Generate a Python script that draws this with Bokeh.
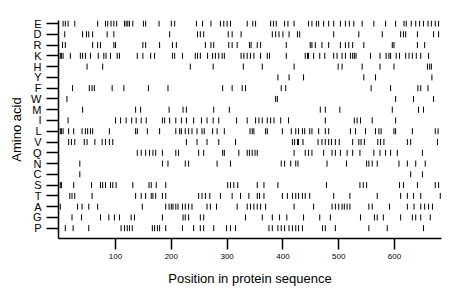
from bokeh.plotting import figure
from bokeh.models import ColumnDataSource, FixedTicker, Range1d
from bokeh.embed import file_html
from bokeh.resources import INLINE

# Amino acids, top to bottom
amino_acids = ["E", "D", "R", "K", "H", "Y", "F", "W", "M", "I",
               "L", "V", "Q", "N", "C", "S", "T", "A", "G", "P"]

pos_E = [6, 10, 15, 27, 68, 82, 86, 92, 97, 102, 116, 119, 122, 125, 131, 150, 154,
         178, 200, 206, 245, 256, 271, 288, 294, 300, 306, 336, 346, 351, 378, 383, 388,
         403, 409, 420, 446, 452, 460, 464, 473, 482, 491, 503, 512, 519, 527, 542, 563,
         584, 602, 617, 621, 630, 638, 645, 652, 660, 666, 673, 679]
pos_D = [9, 41, 48, 52, 59, 85, 97, 197, 247, 252, 258, 302, 309, 325, 381, 387, 393,
         400, 411, 426, 430, 491, 536, 578, 611, 616, 620, 641, 670, 679]
pos_R = [5, 10, 59, 68, 73, 97, 100, 149, 154, 179, 202, 209, 261, 271, 276, 303, 309,
         318, 340, 343, 354, 360, 406, 449, 452, 458, 470, 482, 503, 512, 518, 525, 545,
         596, 599, 641, 654]
pos_K = [1, 3, 6, 19, 37, 41, 46, 55, 69, 79, 83, 91, 103, 107, 139, 149, 163, 170,
         202, 206, 220, 243, 247, 252, 265, 274, 279, 285, 291, 295, 325, 330, 336, 342,
         348, 360, 372, 376, 406, 440, 444, 446, 455, 466, 475, 491, 497, 506, 512, 521,
         525, 528, 531, 557, 574, 585, 590, 593, 603, 609, 620, 626, 632, 639, 647, 661]
pos_H = [49, 77, 234, 275, 329, 363, 420, 499, 506, 542, 574, 599, 659, 663, 666]
pos_Y = [391, 411, 437, 545, 566, 667]
pos_F = [23, 53, 58, 62, 94, 115, 159, 194, 292, 309, 327, 333, 397, 405, 558, 593,
         642, 647, 660]
pos_W = [13, 387, 390, 602, 634, 670]
pos_M = [41, 136, 145, 196, 221, 227, 276, 304, 467, 476, 502, 596, 643, 652]
pos_I = [15, 100, 109, 119, 129, 137, 146, 155, 184, 188, 197, 208, 218, 227, 240,
         254, 264, 275, 285, 317, 336, 351, 357, 363, 372, 378, 384, 396, 410, 476, 528,
         533, 539, 560, 602]
pos_L = [1, 3, 6, 16, 25, 40, 46, 50, 55, 59, 89, 136, 139, 157, 179, 208, 215, 218,
         225, 231, 237, 246, 255, 259, 274, 282, 295, 341, 345, 348, 369, 372, 399, 415,
         423, 428, 435, 439, 448, 452, 464, 476, 482, 521, 530, 548, 566, 572, 576, 599,
         602, 632, 673, 678]
pos_V = [16, 21, 27, 44, 49, 63, 76, 82, 89, 95, 227, 246, 264, 285, 315, 417, 421,
         426, 428, 436, 463, 470, 476, 482, 487, 494, 501, 525, 536, 540, 546, 570, 575,
         581, 623, 629, 677]
pos_Q = [139, 146, 154, 161, 167, 172, 184, 208, 213, 249, 258, 292, 295, 321, 336,
         340, 345, 350, 354, 420, 440, 446, 452, 473, 488, 494, 503, 515, 525, 538, 563,
         574, 584, 593, 605, 650]
pos_N = [36, 184, 194, 225, 231, 282, 306, 397, 403, 414, 423, 427, 479, 514, 550,
         554, 560, 569, 608, 623, 638, 655]
pos_C = [36, 629, 650]
pos_S = [1, 3, 25, 57, 73, 77, 82, 91, 95, 101, 131, 160, 164, 173, 190, 301, 306,
         312, 319, 354, 366, 391, 478, 538, 544, 550, 609, 616, 641, 673, 679]
pos_T = [18, 22, 27, 58, 136, 146, 154, 164, 167, 172, 184, 190, 249, 255, 261, 269,
         288, 309, 324, 339, 354, 358, 366, 399, 408, 417, 423, 428, 435, 440, 448, 491,
         520, 569, 611, 623, 634, 647, 682]
pos_A = [1, 32, 40, 52, 68, 148, 190, 196, 200, 203, 208, 212, 220, 225, 231, 237,
         264, 270, 281, 318, 336, 342, 348, 354, 360, 369, 420, 455, 488, 494, 500, 506,
         510, 515, 520, 554, 560, 591, 623, 635, 647, 654, 661, 668]
pos_G = [22, 39, 73, 88, 98, 107, 128, 134, 184, 221, 225, 231, 252, 258, 333, 363,
         381, 394, 407, 437, 466, 485, 539, 564, 569, 580, 611, 632, 638, 647, 664]
pos_P = [10, 24, 52, 110, 116, 121, 125, 130, 166, 170, 175, 179, 190, 220, 240, 252,
         258, 276, 299, 306, 315, 375, 381, 391, 397, 403, 411, 417, 423, 428, 435, 471,
         476, 494, 554, 587, 652]

positions = {
    "E": pos_E, "D": pos_D, "R": pos_R, "K": pos_K, "H": pos_H, "Y": pos_Y,
    "F": pos_F, "W": pos_W, "M": pos_M, "I": pos_I, "L": pos_L, "V": pos_V,
    "Q": pos_Q, "N": pos_N, "C": pos_C, "S": pos_S, "T": pos_T, "A": pos_A,
    "G": pos_G, "P": pos_P,
}

x_ticks = [100, 200, 300, 400, 500, 600]

n = len(amino_acids)
row_of = {aa: n - 1 - i for i, aa in enumerate(amino_acids)}

xs, y0s, y1s = [], [], []
half = 0.28
for aa in amino_acids:
    r = row_of[aa]
    for pos in positions[aa]:
        xs.append(pos)
        y0s.append(r - half)
        y1s.append(r + half)

src = ColumnDataSource(dict(x=xs, y0=y0s, y1=y1s))

p = figure(width=452, height=291, output_backend="svg", toolbar_location=None,
           x_range=Range1d(-2.2, 684.2), y_range=Range1d(-0.956, 19.28),
           min_border_left=58, min_border_right=11, min_border_top=20,
           min_border_bottom=53)
p.outline_line_color = None
p.xgrid.visible = False
p.ygrid.visible = False
p.background_fill_color = "white"
p.border_fill_color = "white"

p.segment(x0="x", x1="x", y0="y0", y1="y1", source=src,
          line_color="black", line_width=1)

font = "Liberation Sans"

for ax in (p.xaxis, p.yaxis):
    ax.axis_label_text_font = font
    ax.axis_label_text_font_size = "13px"
    ax.axis_label_text_font_style = "normal"
    ax.axis_label_text_color = "black"
    ax.major_label_text_font = font
    ax.major_label_text_color = "black"
    ax.major_tick_in = 0
    ax.minor_tick_line_color = None
    ax.axis_line_width = 1.5
    ax.axis_line_color = "black"
    ax.major_tick_line_width = 1.5
    ax.major_tick_line_color = "black"

p.xaxis.ticker = FixedTicker(ticks=x_ticks)
p.xaxis.axis_label = "Position in protein sequence"
p.xaxis.axis_label_standoff = 9
p.xaxis.major_label_text_font_size = "8px"
p.xaxis.major_label_standoff = 4
p.xaxis.major_tick_out = 11

p.yaxis.ticker = FixedTicker(ticks=list(range(n)))
p.yaxis.major_label_overrides = {row_of[aa]: aa for aa in amino_acids}
p.yaxis.axis_label = "Amino acid"
p.yaxis.axis_label_standoff = 4
p.yaxis.major_label_text_font_size = "11px"
p.yaxis.major_label_standoff = 5
p.yaxis.major_tick_out = 12

open("out.html", "w").write(file_html(p, INLINE))
